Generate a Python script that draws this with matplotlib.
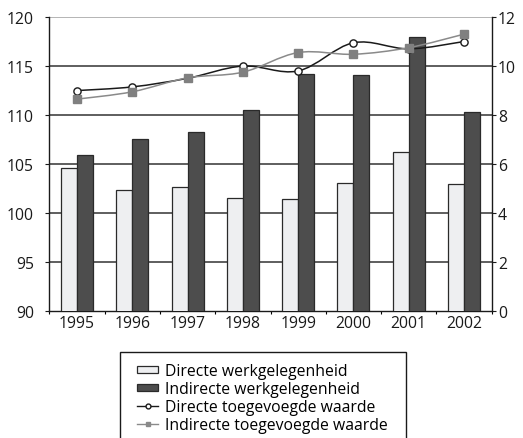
import numpy as np
import matplotlib
matplotlib.use("Agg")
import matplotlib.pyplot as plt
from matplotlib.path import Path
from matplotlib.patches import PathPatch, Patch, Rectangle
from matplotlib.lines import Line2D
from matplotlib.transforms import ScaledTranslation

plt.rcParams['font.family'] = ['Open Sans', 'DejaVu Sans']

years = ['1995', '1996', '1997', '1998', '1999', '2000', '2001', '2002']
# werkgelegenheid (index, left axis)
directe_werk = [104.6, 102.4, 102.7, 101.5, 101.4, 103.1, 106.2, 103.0]
indirecte_werk = [105.9, 107.6, 108.3, 110.5, 114.2, 114.1, 118.0, 110.3]
# toegevoegde waarde (right axis)
directe_tw = [9.0, 9.15, 9.5, 10.0, 9.8, 10.95, 10.7, 11.0]
indirecte_tw = [8.65, 8.95, 9.52, 9.75, 10.55, 10.48, 10.75, 11.3]


def smooth_path(x, y):
    # bezier through the points, like a smoothed spreadsheet line
    pts = np.column_stack([x, y]).astype(float)
    ext = np.vstack([pts[0], pts, pts[-1]])
    verts = [pts[0]]
    codes = [Path.MOVETO]
    for i in range(len(pts) - 1):
        p0, p1, p2, p3 = ext[i], ext[i + 1], ext[i + 2], ext[i + 3]
        c1 = p1 + (p2 - p0) / 6
        c2 = p2 - (p3 - p1) / 6
        verts += [c1, c2, p2]
        codes += [Path.CURVE4] * 3
    return Path(verts, codes)


W, H = 523, 439
fig = plt.figure(figsize=(W / 100, H / 100), dpi=100)
ax = fig.add_axes([49.3 / W, 1 - 312.3 / H, 442.4 / W, 294.3 / H])
ax2 = ax.twinx()

x = np.arange(len(years))
w = 0.29
ax.set_axisbelow(True)
ax.bar(x - w / 2, directe_werk, w, color='#eeeff1', edgecolor='#2a2a2a', linewidth=0.9, zorder=3)
ax.bar(x + w / 2, indirecte_werk, w, color='#4d4d4d', edgecolor='#2a2a2a', linewidth=0.9, zorder=3)

ax.set_ylim(90, 120)
ax.set_yticks(range(90, 121, 5))
ax.set_xlim(-0.5, len(years) - 0.5)
ax.set_xticks(x)
ax.set_xticklabels(years)
ax.set_xticks(np.arange(-0.5, len(years), 1), minor=True)
shift = ScaledTranslation(-7 / 100, 0, fig.dpi_scale_trans)
for lbl in ax.get_xticklabels():
    lbl.set_transform(lbl.get_transform() + shift)
for yv in range(95, 120, 5):
    ax.axhline(yv, color='#333333', linewidth=1.1, zorder=1)
ax.axhline(120, color='#a8a8a8', linewidth=1.2, zorder=1)

ax2.set_ylim(0, 12)
ax2.set_yticks(range(0, 13, 2))

# smoothed lines on the right axis, squares drawn over the circles
ax2.add_patch(PathPatch(smooth_path(x, directe_tw), facecolor='none', edgecolor='#1a1a1a', linewidth=1.1, zorder=4))
ax2.add_patch(PathPatch(smooth_path(x, indirecte_tw), facecolor='none', edgecolor='#8a8a8a', linewidth=1.1, zorder=4))
ax2.plot(x, directe_tw, linestyle='none', marker='o', markersize=5.2, markerfacecolor='white',
         markeredgecolor='#1a1a1a', markeredgewidth=1.0, zorder=5)
ax2.plot(x, indirecte_tw, linestyle='none', marker='s', markersize=5.2, color='#808080', zorder=6)

for a in (ax, ax2):
    a.spines['top'].set_visible(False)
    for s in ('left', 'right', 'bottom'):
        a.spines[s].set_color('#1a1a1a')
        a.spines[s].set_linewidth(1.0)
ax2.spines['left'].set_visible(False)
ax2.spines['bottom'].set_visible(False)
ax.spines['right'].set_visible(False)

fs = 11.3
ax.tick_params(axis='y', labelsize=fs, length=3, width=0.8, pad=8, colors='#1a1a1a')
ax2.tick_params(axis='y', labelsize=fs, length=3, width=0.8, pad=1.5, colors='#1a1a1a')
ax.tick_params(axis='x', which='major', length=0, labelsize=fs, pad=3, colors='#1a1a1a')
ax.tick_params(axis='x', which='minor', length=2, width=0.8)

handles = [
    Patch(facecolor='#eeeff1', edgecolor='#2a2a2a', linewidth=0.9),
    Patch(facecolor='#4d4d4d', edgecolor='#2a2a2a', linewidth=0.9),
    Line2D([], [], color='#1a1a1a', linewidth=1.0, marker='o', markersize=3.5,
           markerfacecolor='white', markeredgecolor='#1a1a1a'),
    Line2D([], [], color='#8a8a8a', linewidth=1.0, marker='s', markersize=3.5),
]
labels = ['Directe werkgelegenheid', 'Indirecte werkgelegenheid',
          'Directe toegevoegde waarde', 'Indirecte toegevoegde waarde']
leg = fig.legend(handles, labels, loc='upper left', bbox_to_anchor=(137 / W, 1 - 364 / H),
                 fontsize=fs, frameon=False, handlelength=1.35,
                 handleheight=0.35, handletextpad=0.45, labelspacing=0.12,
                 borderpad=0, borderaxespad=0)
# legend box, running past the bottom edge
fig.patches.append(Rectangle((119.5 / W, -0.05), (406 - 119.5) / W, 0.05 + 1 - 353 / H,
                             transform=fig.transFigure, facecolor='none',
                             edgecolor='#1a1a1a', linewidth=1.0))

fig.savefig('out.png', dpi=100)
